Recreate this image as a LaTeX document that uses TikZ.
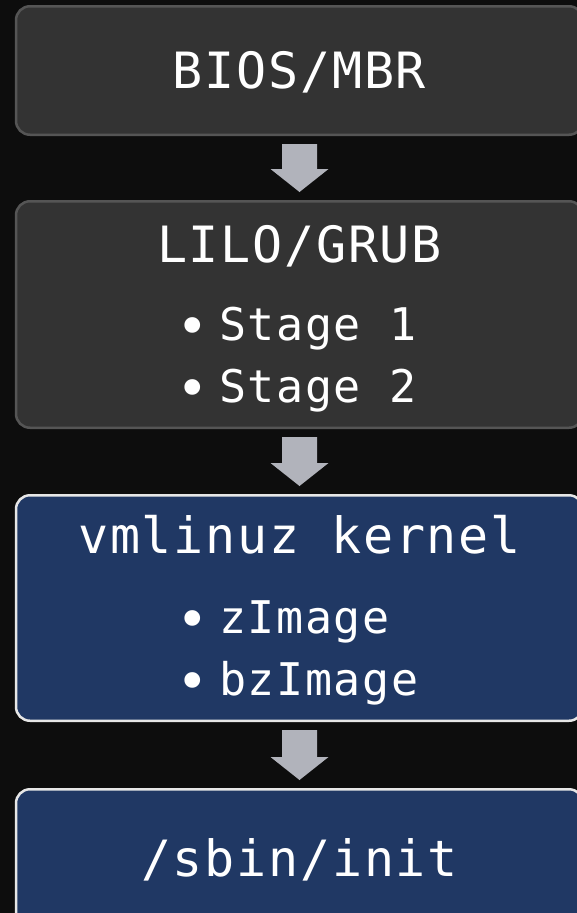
\documentclass[tikz,border=0pt]{standalone}
\usepackage{fontspec}
\newfontfamily\boxfont[LetterSpace=3.5]{DejaVu Sans Mono}
\usepackage{tikz}
\usetikzlibrary{calc,positioning}

\definecolor{bgcol}{HTML}{0D0D0D}
\definecolor{grayfill}{HTML}{333333}
\definecolor{grayline}{HTML}{555555}
\definecolor{bluefill}{HTML}{203864}
\definecolor{blueline}{HTML}{E6E6E6}
\definecolor{flowfill}{HTML}{B1B3BB}

\newcommand{\bul}{\makebox[52pt][c]{\raisebox{-5.5pt}{\scalebox{1.2}{\textbullet}}}}

\tikzset{
    graybox/.style={ % Stage boxes
    draw=grayline,
    fill=grayfill,
    line width=2.5pt,
    rounded corners=14pt,
    minimum width=567pt,
    inner sep=0pt,
    text=white,
    font=\boxfont\fontsize{50}{60}\selectfont,
    text height=35pt, text depth=0pt},
    bluebox/.style={graybox, draw=blueline, fill=bluefill},
    title/.style={text=white, anchor=base,
    font=\boxfont\fontsize{50}{60}\selectfont},
    item/.style={text=white, anchor=base west, inner sep=0pt,
    font=\boxfont\fontsize{45}{54}\selectfont},
    flow/.style={ % Block arrow between two stages
    to path={($(\tikztostart)+(-17.5,8)$) -- ($(\tikztotarget)+(-17.5,-31)$)
    -- ($(\tikztotarget)+(-29,-31)$) -- ($(\tikztotarget)+(0,-8)$)
    -- ($(\tikztotarget)+(29,-31)$) -- ($(\tikztotarget)+(17.5,-31)$)
    -- ($(\tikztostart)+(17.5,8)$) -- cycle}}}

\begin{document}
\begin{tikzpicture}[x=1pt, y=-1pt]
    \fill[bgcol] (0,0) rectangle (577,913);
    \useasboundingbox (0,0) rectangle (577,913);

    % Boot stages
    \node[graybox, minimum height=128.5pt] (bios) at (299.5,70.5) {BIOS/MBR};

    \node[graybox, minimum height=226.5pt] (lilo) at (299.5,314.5) {};
    \node[title] (lilot) at (299.5,262) {LILO/GRUB};
    \node[item] (lilo1) at (167,340) {\bul Stage 1};
    \node[item] (lilo2) at (167,402) {\bul Stage 2};

    \node[bluebox, minimum height=225.5pt] (kernel) at (299.5,608) {};
    \node[title] (kernelt) at (299.5,553) {vmlinuz kernel};
    \node[item] (kernel1) at (167,633) {\bul zImage};
    \node[item] (kernel2) at (167,695) {\bul bzImage};

    \node[bluebox, minimum height=138.5pt] (init) at (299.5,858.5) {/sbin/init};

    % Arrows
    \fill[flowfill] (bios.south) to[flow] (lilo.north);
    \fill[flowfill] (lilo.south) to[flow] (kernel.north);
    \fill[flowfill] (kernel.south) to[flow] (init.north);
\end{tikzpicture}
\end{document}
